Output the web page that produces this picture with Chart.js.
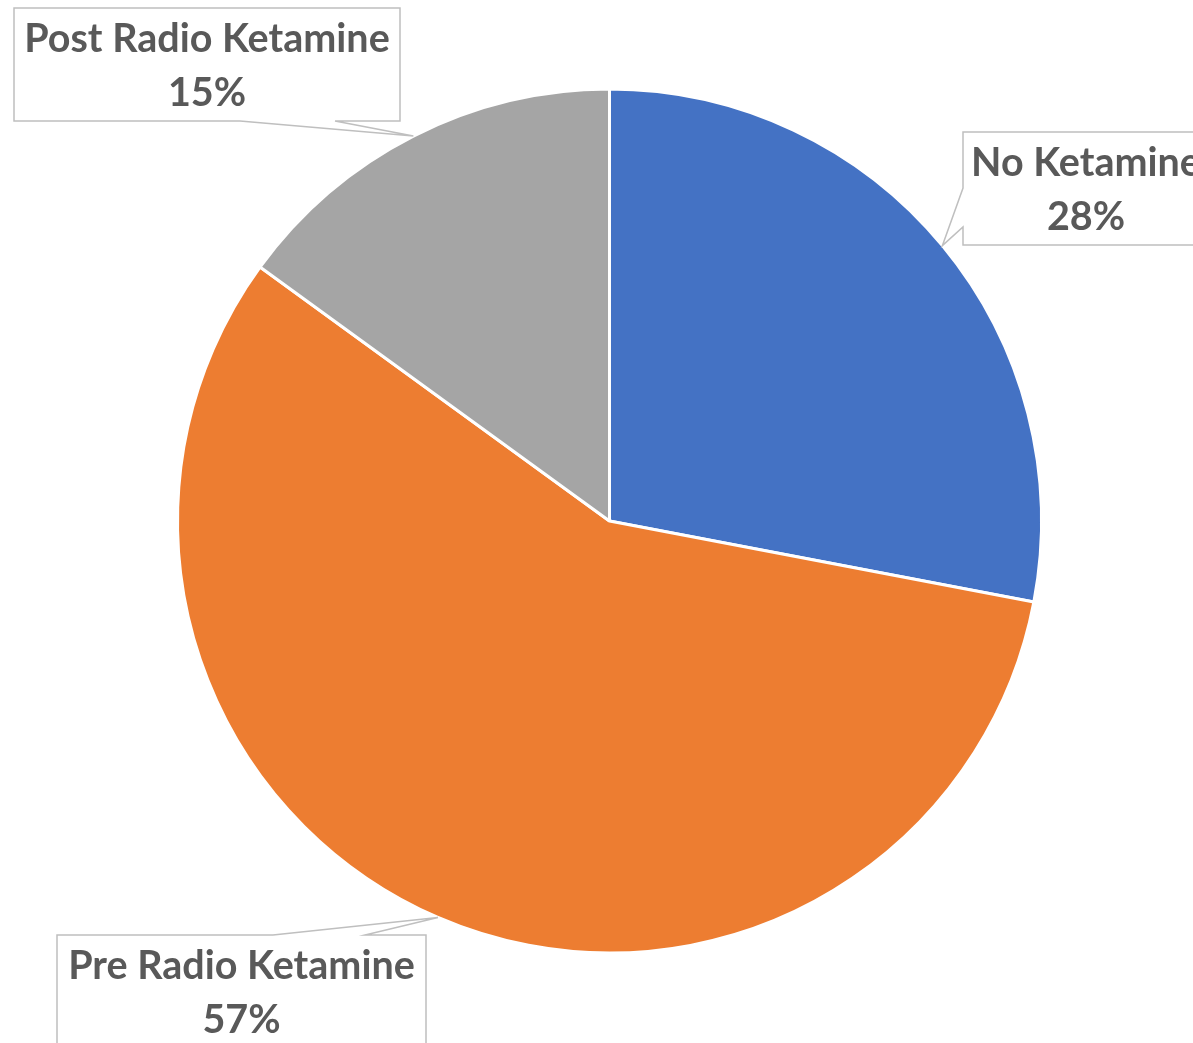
<!DOCTYPE html>
<html>
<head>
<meta charset="utf-8">
<script src="https://cdn.jsdelivr.net/npm/chart.js@4.4.1/dist/chart.umd.min.js"></script>
<style>
  html, body { margin: 0; padding: 0; background: #fff; }
  canvas { display: block; }
</style>
</head>
<body>
<canvas id="myChart" width="1193" height="1043"></canvas>
<script>
'use strict';

// chart data
const categories = ['No Ketamine', 'Pre Radio Ketamine', 'Post Radio Ketamine'];
const shares = [28, 57, 15];
const sliceColors = ['#4472C4', '#ED7D31', '#A5A5A5'];

// callout boxes: rect + which side the pointer leaves from (layout only)
const callouts = [
    { x: 963, y: 132, w: 246, h: 113, side: 'left', a: 188, b: 227 },
    { x: 57, y: 935, w: 369, h: 130, side: 'top', a: 273, b: 365 },
    { x: 14, y: 8, w: 386, h: 113, side: 'bottom', a: 240, b: 335 }
];

const calloutPlugin = {
    id: 'callouts',
    afterDatasetsDraw(chart) {
        const ctx = chart.ctx;
        const arcs = chart.getDatasetMeta(0).data;
        const total = shares.reduce((s, v) => s + v, 0);
        arcs.forEach((arc, i) => {
            const c = callouts[i];
            const mid = (arc.startAngle + arc.endAngle) / 2;
            const tx = arc.x + Math.cos(mid) * arc.outerRadius;
            const ty = arc.y + Math.sin(mid) * arc.outerRadius;
            const x1 = c.x, y1 = c.y, x2 = c.x + c.w, y2 = c.y + c.h;

            ctx.save();
            ctx.beginPath();
            ctx.moveTo(x1, y1);
            if (c.side === 'top') {
                ctx.lineTo(c.a, y1); ctx.lineTo(tx, ty); ctx.lineTo(c.b, y1);
            }
            ctx.lineTo(x2, y1);
            ctx.lineTo(x2, y2);
            if (c.side === 'bottom') {
                ctx.lineTo(c.b, y2); ctx.lineTo(tx, ty); ctx.lineTo(c.a, y2);
            }
            ctx.lineTo(x1, y2);
            if (c.side === 'left') {
                ctx.lineTo(x1, c.b); ctx.lineTo(tx, ty); ctx.lineTo(x1, c.a);
            }
            ctx.closePath();
            ctx.fillStyle = '#ffffff';
            ctx.fill();
            ctx.strokeStyle = '#BFBFBF';
            ctx.lineWidth = 1.5;
            ctx.stroke();

            ctx.fillStyle = '#595959';
            ctx.font = 'bold 39.5px Lato, "Open Sans", sans-serif';
            ctx.textAlign = 'center';
            ctx.textBaseline = 'alphabetic';
            const cx = x1 + c.w / 2;
            const pct = Math.round(shares[i] / total * 100) + '%';
            ctx.fillText(categories[i], cx, y1 + 44);
            ctx.fillText(pct, cx, y1 + 98);
            ctx.restore();
        });
    }
};

const ctx = document.getElementById('myChart').getContext('2d');

const myChart = new Chart(ctx, {
    type: 'pie',
    data: {
        labels: categories,
        datasets: [{
            data: shares,
            backgroundColor: sliceColors,
            borderColor: '#ffffff',
            borderWidth: 3
        }]
    },
    options: {
        responsive: false,
        animation: false,
        layout: {
            padding: { left: 176, right: 150, top: 87, bottom: 88 }
        },
        plugins: {
            legend: { display: false },
            tooltip: { enabled: false }
        }
    },
    plugins: [calloutPlugin]
});
</script>
</body>
</html>
